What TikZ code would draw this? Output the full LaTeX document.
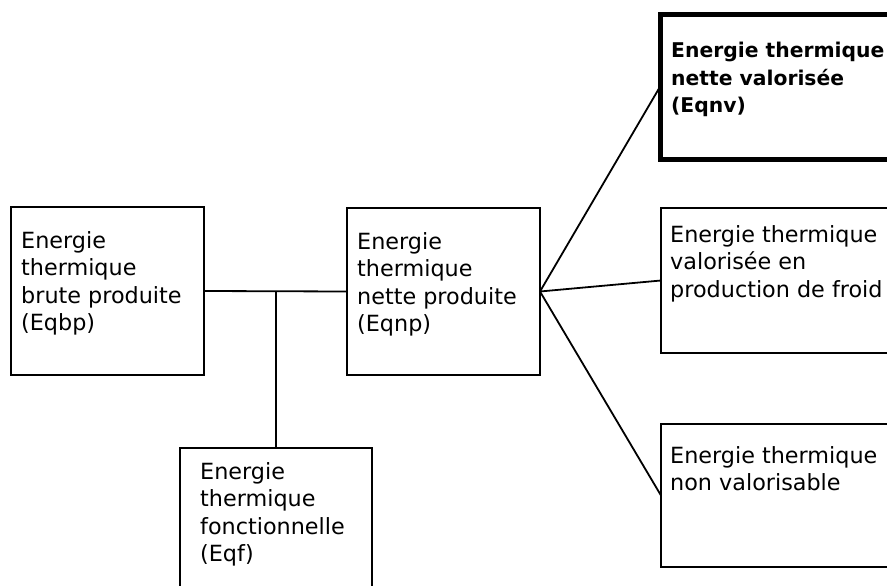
\documentclass[tikz,border=0pt]{standalone}
\usepackage{fontspec}
\setmainfont{DejaVu Sans}
\begin{document}
\begin{tikzpicture}[x=1pt,y=1pt,
  box/.style={draw=black, line width=1.8pt, rectangle, inner sep=0pt, outer sep=0pt},
  thickbox/.style={draw=black, line width=5pt, rectangle, inner sep=0pt, outer sep=0pt},
  lbl/.style={anchor=base west, inner sep=0pt, font=\fontsize{22.3}{27.5}\selectfont},
  lblb/.style={anchor=base west, inner sep=0pt, font=\fontsize{20.3}{27.5}\selectfont\bfseries},
  conn/.style={draw=black, line width=1.8pt}]
\clip (0,0) rectangle (887,-586);
\useasboundingbox (0,0) rectangle (887,-586);
\fill[white] (0,0) rectangle (887,-586);
% boxes
\node[box, minimum width=193pt, minimum height=168pt] (bp) at (107.5,-291) {};
\node[box, minimum width=193pt, minimum height=167pt] (np) at (443.5,-291.5) {};
\node[box, minimum width=192pt, minimum height=172pt] (f) at (276,-534) {};
\node[thickbox, minimum width=250pt, minimum height=144.5pt] (nv) at (785,-86.75) {};
\node[box, minimum width=249pt, minimum height=145pt] (fr) at (785.5,-280.5) {};
\node[box, minimum width=249pt, minimum height=143pt] (nvs) at (785.5,-495.5) {};
% texts
\node[lbl] (tbp) at (21,-248) {\begin{tabular}[t]{@{}l@{}}Energie\\thermique\\brute produite\\(Eqbp)\end{tabular}};
\node[lbl] (tnp) at (357,-249) {\begin{tabular}[t]{@{}l@{}}Energie\\thermique\\nette produite\\(Eqnp)\end{tabular}};
\node[lbl] (tf) at (200,-479) {\begin{tabular}[t]{@{}l@{}}Energie\\thermique\\fonctionnelle\\(Eqf)\end{tabular}};
\node[lblb] (tnv) at (671,-58) {\begin{tabular}[t]{@{}l@{}}Energie thermique\\nette valorisée\\(Eqnv)\end{tabular}};
\node[lbl] (tfr) at (670,-242) {\begin{tabular}[t]{@{}l@{}}Energie thermique\\valorisée en\\production de froid\end{tabular}};
\node[lbl] (tnvs) at (670,-463) {\begin{tabular}[t]{@{}l@{}}Energie thermique\\non valorisable\end{tabular}};
% connectors
\draw[conn] (bp.east) -- (np.west);
\coordinate (j) at (f.north |- bp.east);
\draw[conn] (f.north) -- (j);
\draw[conn] (np.east) -- (nv.west);
\draw[conn] (np.east) -- (fr.west);
\draw[conn] (np.east) -- (nvs.west);
\end{tikzpicture}
\end{document}
